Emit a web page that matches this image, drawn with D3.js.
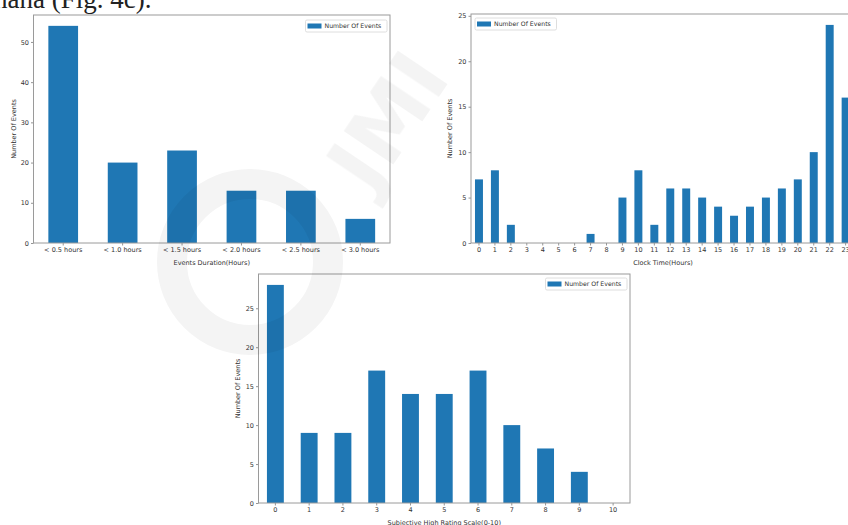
<!DOCTYPE html>
<html>
<head>
<meta charset="utf-8">
<script src="https://cdn.jsdelivr.net/npm/d3@7"></script>
<style>
  html, body { margin: 0; padding: 0; background: #fff; }
  svg { display: block; }
  text { font-family: "DejaVu Sans", sans-serif; fill: #333; }
</style>
</head>
<body>
<svg id="page" width="848" height="525"></svg>
<script>
// chart data
var durationCats = ["< 0.5 hours", "< 1.0 hours", "< 1.5 hours", "< 2.0 hours", "< 2.5 hours", "< 3.0 hours"];
var durationVals = [54, 20, 23, 13, 13, 6];
var durationTicks = [0, 10, 20, 30, 40, 50];

var hourCats = ["0","1","2","3","4","5","6","7","8","9","10","11","12","13","14","15","16","17","18","19","20","21","22","23"];
var hourVals = [7, 8, 2, 0, 0, 0, 0, 1, 0, 5, 8, 2, 6, 6, 5, 4, 3, 4, 5, 6, 7, 10, 24, 16];
var hourTicks = [0, 5, 10, 15, 20, 25];

var ratingCats = ["0","1","2","3","4","5","6","7","8","9","10"];
var ratingVals = [28, 9, 9, 17, 14, 14, 17, 10, 7, 4, 0];
var ratingTicks = [0, 5, 10, 15, 20, 25];

var legendLabel = "Number Of Events";
var yTitle = "Number Of Events";

var svg = d3.select("#page");
var FS = 6.5;
var BLUE = "#1f77b4";

// cut-off body text above the figure
svg.append("text")
  .attr("x", -6).attr("y", 8)
  .style("font-family", "'Liberation Serif', 'DejaVu Serif', serif")
  .style("font-size", "27px")
  .style("fill", "#222")
  .text("hana (Fig. 4c).");

function barChart(o) {
  var g = svg.append("g");
  var x = d3.scaleBand().domain(o.cats).range([o.left, o.right]).paddingInner(0.5).paddingOuter(0.25);
  var ymax = d3.max(o.vals) * 1.05;
  var y = d3.scaleLinear().domain([0, ymax]).range([o.bottom, o.top]);

  g.selectAll("rect.bar").data(o.vals).enter().append("rect")
    .attr("class", "bar")
    .attr("x", function (d, i) { return x(o.cats[i]); })
    .attr("width", x.bandwidth())
    .attr("y", function (d) { return y(d); })
    .attr("height", function (d) { return o.bottom - y(d); })
    .attr("fill", BLUE);

  // axes
  var xa = g.append("g").attr("transform", "translate(0," + o.bottom + ")")
    .call(d3.axisBottom(x).tickSizeOuter(0).tickSize(2.5).tickPadding(2));
  var ya = g.append("g").attr("transform", "translate(" + o.left + ",0)")
    .call(d3.axisLeft(y).tickValues(o.ticks).tickSizeOuter(0).tickSize(2.5).tickPadding(2));
  [xa, ya].forEach(function (a) {
    a.select(".domain").remove();
    a.selectAll(".tick line").attr("stroke", "#666").attr("stroke-width", 0.7);
    a.selectAll(".tick text").style("font-size", FS + "px").style("fill", "#333");
  });

  // frame
  g.append("rect")
    .attr("x", o.left).attr("y", o.top)
    .attr("width", o.right - o.left).attr("height", o.bottom - o.top)
    .attr("fill", "none").attr("stroke", "#9a9a9a").attr("stroke-width", 1);

  g.append("text")
    .attr("x", o.xTitleX || (o.left + o.right) / 2).attr("y", o.bottom + 21.5)
    .attr("text-anchor", "middle").style("font-size", FS + "px")
    .text(o.xTitle);

  g.append("text")
    .attr("transform", "translate(" + o.yTitleX + "," + ((o.top + o.bottom) / 2) + ") rotate(-90)")
    .attr("text-anchor", "middle").style("font-size", FS + "px")
    .text(yTitle);

  // legend
  var tw = 58.5;
  var lw = 2 + 14 + 3 + tw + 4;
  var lx = o.legRight ? o.legX - lw : o.legX;
  var lg = g.append("g").attr("transform", "translate(" + lx + "," + o.legY + ")");
  lg.append("rect").attr("width", lw).attr("height", 12).attr("rx", 1.5)
    .attr("fill", "#fff").attr("stroke", "#d6d6d6").attr("stroke-width", 0.8);
  lg.append("rect").attr("x", 2).attr("y", 3.5).attr("width", 14).attr("height", 5).attr("fill", BLUE);
  lg.append("text").attr("x", 19).attr("y", 8.3).style("font-size", "6.2px").text(legendLabel);
}

barChart({ cats: durationCats, vals: durationVals, ticks: durationTicks,
  left: 33.5, right: 390, top: 15, bottom: 243,
  xTitle: "Events Duration(Hours)", yTitleX: 16,
  legX: 387, legY: 20, legRight: true });

barChart({ cats: hourCats, vals: hourVals, ticks: hourTicks,
  left: 471, right: 853.6, top: 14, bottom: 243,
  xTitle: "Clock Time(Hours)", xTitleX: 663, yTitleX: 452,
  legX: 475, legY: 18, legRight: false });

barChart({ cats: ratingCats, vals: ratingVals, ticks: ratingTicks,
  left: 258.5, right: 630, top: 274, bottom: 503,
  xTitle: "Subjective High Rating Scale(0-10)", yTitleX: 240,
  legX: 627, legY: 278, legRight: true });

// faint preprint watermark laid over everything
var wm = svg.append("g").attr("pointer-events", "none").style("opacity", 0.045);
wm.append("text")
  .attr("transform", "translate(372,196) rotate(-56)")
  .style("font-family", "'DejaVu Sans', sans-serif")
  .style("font-weight", "bold").style("font-size", "82px").style("fill", "#000")
  .text("JMI");
wm.append("circle").attr("cx", 250).attr("cy", 262).attr("r", 78)
  .attr("fill", "none").attr("stroke", "#000").attr("stroke-width", 30);
</script>
</body>
</html>
